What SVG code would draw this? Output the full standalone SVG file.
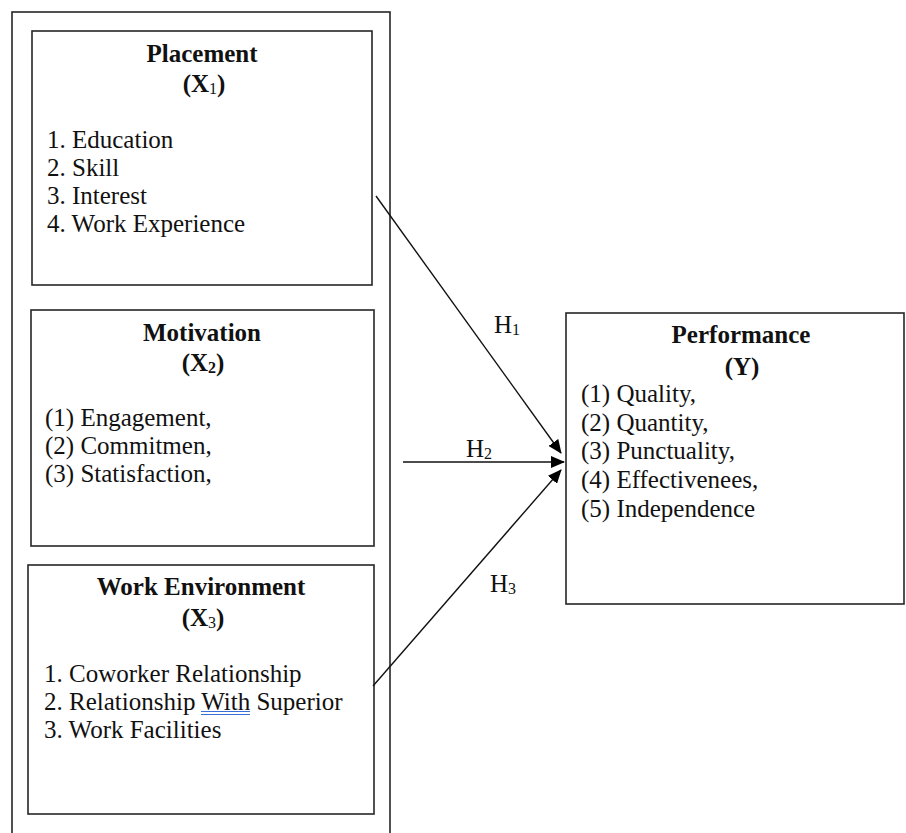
<svg xmlns="http://www.w3.org/2000/svg" width="906" height="833" viewBox="0 0 906 833">
<style>
.box{fill:none;stroke:#262626;stroke-width:1.6}
.t{font-family:"Liberation Serif","Times New Roman",serif;font-size:25px;fill:#111}
.b{font-weight:bold}
.c{text-anchor:middle}
.sub{font-size:16px}
.ln{stroke:#111;stroke-width:1.4;fill:none}
</style>
<defs>
<marker id="ah" markerWidth="14" markerHeight="12" refX="13" refY="6" orient="auto" markerUnits="userSpaceOnUse">
<path d="M0,0 L14,6 L0,12 Z" fill="#000"/>
</marker>
</defs>
<rect width="906" height="833" fill="#fff"/>
<g id="outer"><rect class="box" x="12" y="12" width="378" height="840"/></g>
<g id="placement">
<rect class="box" x="32" y="31" width="340" height="254"/>
<text class="t b c" x="202" y="62">Placement</text>
<text class="t b c" x="204" y="92">(X<tspan class="sub" font-weight="normal" dy="2">1</tspan><tspan dy="-2">)</tspan></text>
<text class="t" x="47" y="148">1. Education</text>
<text class="t" x="47" y="176">2. Skill</text>
<text class="t" x="47" y="204">3. Interest</text>
<text class="t" x="47" y="232">4. Work Experience</text>
</g>
<g id="motivation">
<rect class="box" x="31" y="310" width="343" height="236"/>
<text class="t b c" x="202" y="341">Motivation</text>
<text class="t b c" x="203" y="371">(X<tspan class="sub" dy="2">2</tspan><tspan dy="-2">)</tspan></text>
<text class="t" x="45" y="426">(1) Engagement,</text>
<text class="t" x="45" y="454">(2) Commitmen,</text>
<text class="t" x="45" y="482">(3) Statisfaction,</text>
</g>
<g id="environment">
<rect class="box" x="28" y="565" width="346" height="249"/>
<text class="t b c" x="201" y="595">Work Environment</text>
<text class="t b c" x="203" y="626">(X<tspan class="sub" font-weight="normal" dy="2">3</tspan><tspan dy="-2">)</tspan></text>
<text class="t" x="44" y="682">1. Coworker Relationship</text>
<text class="t" x="44" y="710">2. Relationship With Superior</text>
<text class="t" x="44" y="738">3. Work Facilities</text>
<line x1="201" y1="711.5" x2="250" y2="711.5" stroke="#3a6fd8" stroke-width="1"/>
<line x1="201" y1="714.5" x2="250" y2="714.5" stroke="#3a6fd8" stroke-width="1"/>
</g>
<g id="performance">
<rect class="box" x="566" y="313" width="338" height="291"/>
<text class="t b c" x="741" y="343">Performance</text>
<text class="t b c" x="742" y="375">(Y)</text>
<text class="t" x="581" y="402">(1) Quality,</text>
<text class="t" x="581" y="431">(2) Quantity,</text>
<text class="t" x="581" y="459">(3) Punctuality,</text>
<text class="t" x="581" y="488">(4) Effectivenees,</text>
<text class="t" x="581" y="517">(5) Independence</text>
</g>
<g id="connectors">
<line class="ln" x1="376" y1="196" x2="561" y2="453" marker-end="url(#ah)"/>
<line class="ln" x1="403" y1="462" x2="564" y2="462" marker-end="url(#ah)"/>
<line class="ln" x1="373" y1="686" x2="561" y2="470" marker-end="url(#ah)"/>
<text class="t" x="494" y="333">H<tspan class="sub" dy="2">1</tspan></text>
<text class="t" x="466" y="457">H<tspan class="sub" dy="2">2</tspan></text>
<text class="t" x="490" y="592">H<tspan class="sub" dy="2">3</tspan></text>
</g>
</svg>
